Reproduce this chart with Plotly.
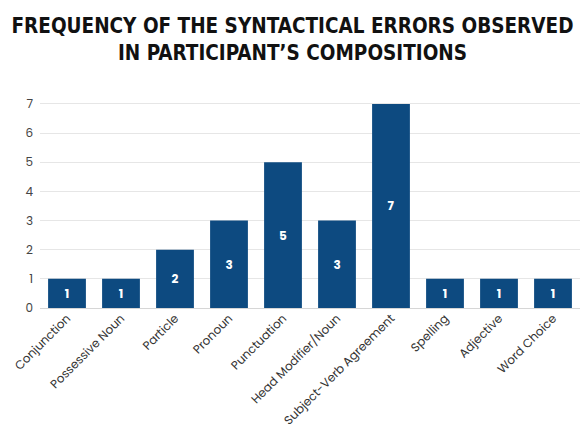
import plotly.graph_objects as go

categories = ["Conjunction", "Possessive Noun", "Particle", "Pronoun", "Punctuation",
              "Head Modifier/Noun", "Subject-Verb Agreement", "Spelling", "Adjective", "Word Choice"]
frequencies = [1, 1, 2, 3, 5, 3, 7, 1, 1, 1]
y_ticks = [0, 1, 2, 3, 4, 5, 6, 7]

bar_color = "#0d4a80"
font_main = "Poppins, Lato, Roboto, sans-serif"

fig = go.Figure(go.Bar(
    x=categories, y=frequencies,
    marker=dict(color=bar_color, line=dict(width=0)),
    text=[f"<b>{v}</b>" for v in frequencies],
    textposition="inside", insidetextanchor="middle",
    textfont=dict(color="white", size=12, family=font_main),
    width=0.7,
))

fig.update_layout(
    width=585, height=442,
    margin=dict(l=40, r=5, t=101, b=134),
    paper_bgcolor="white", plot_bgcolor="white",
    showlegend=False,
    title=dict(
        text="<b>FREQUENCY OF THE SYNTACTICAL ERRORS OBSERVED<br>IN PARTICIPANT’S COMPOSITIONS</b>",
        x=0.5, xanchor="center", xref="container", y=0.925, yanchor="middle", yref="container",
        font=dict(family="DejaVu Sans Condensed, sans-serif", size=20.5, color="#111111"),
    ),
    xaxis=dict(
        tickangle=-45, tickfont=dict(family=font_main, size=12, color="#333333"),
        showgrid=False, showline=False, ticks="",
    ),
    yaxis=dict(
        range=[0, 7.1], tickvals=y_ticks,
        tickfont=dict(family=font_main, size=12, color="#444444"),
        showgrid=True, gridcolor="#e6e6e6", gridwidth=1,
        zeroline=True, zerolinecolor="#d6d6d6", zerolinewidth=1,
        ticks="", showline=False, ticklabelstandoff=6,
    ),
)

fig.write_html("out.html")
